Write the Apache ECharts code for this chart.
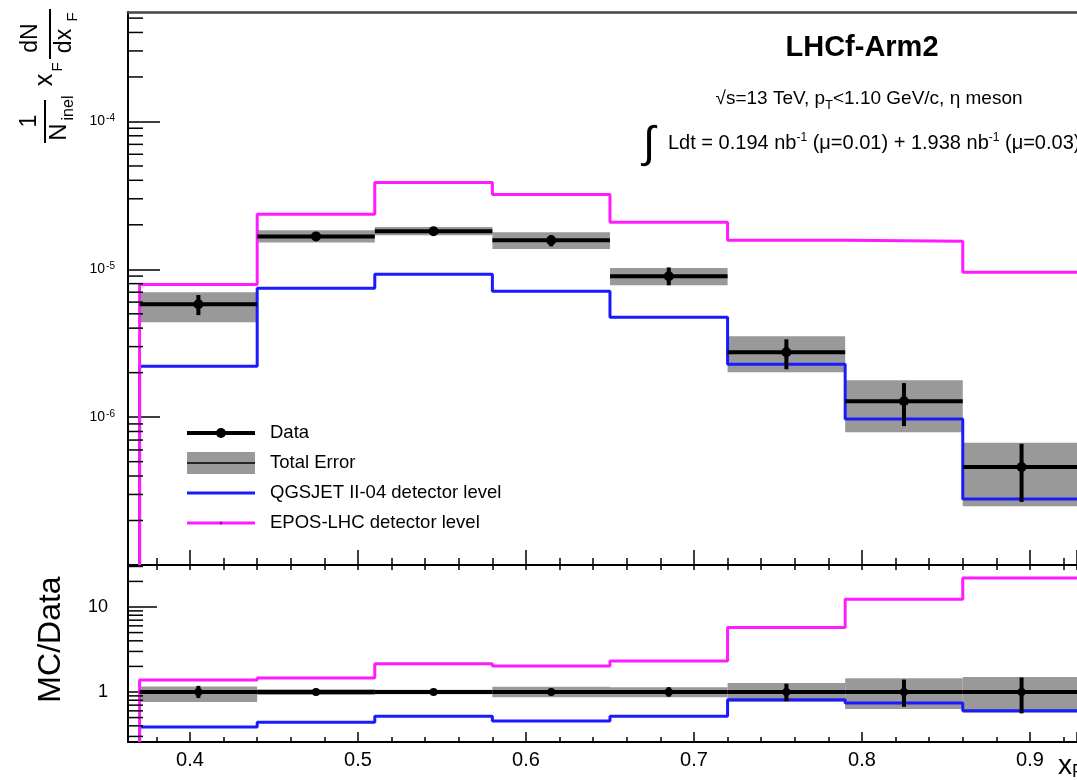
<!DOCTYPE html>
<html>
<head>
<meta charset="utf-8">
<title>LHCf-Arm2 eta meson xF spectrum</title>
<script src="https://cdn.jsdelivr.net/npm/echarts@6.0.0/dist/echarts.min.js"></script>
<style>
  html, body { margin: 0; padding: 0; background: #fff; }
  #main { width: 1077px; height: 780px; }
</style>
</head>
<body>
<div id="main"></div>
<script>
// x_F bin edges
const xfEdges = [0.37, 0.44, 0.51, 0.58, 0.65, 0.72, 0.79, 0.86, 0.93];

// upper panel: 1/N_inel x_F dN/dx_F
const dataVal    = [5.8e-6, 1.67e-5, 1.81e-5, 1.57e-5, 8.97e-6, 2.75e-6, 1.28e-6, 4.6e-7];
const dataStatLo = [4.9e-6, 1.60e-5, 1.75e-5, 1.43e-5, 7.8e-6, 2.11e-6, 8.7e-7, 2.67e-7];
const dataStatHi = [6.7e-6, 1.74e-5, 1.87e-5, 1.70e-5, 1.03e-5, 3.36e-6, 1.70e-6, 6.6e-7];
const dataTotLo  = [4.38e-6, 1.52e-5, 1.70e-5, 1.37e-5, 7.8e-6, 2.01e-6, 7.9e-7, 2.5e-7];
const dataTotHi  = [7.0e-6, 1.84e-5, 1.93e-5, 1.78e-5, 1.02e-5, 3.52e-6, 1.78e-6, 6.7e-7];
const qgsjetVal  = [2.21e-6, 7.45e-6, 9.25e-6, 7.1e-6, 4.74e-6, 2.28e-6, 9.7e-7, 2.8e-7];
const eposVal    = [7.9e-6, 2.36e-5, 3.87e-5, 3.21e-5, 2.08e-5, 1.57e-5, 1.55e-5, 9.55e-6];

// lower panel: MC/Data
const ratioVal    = [1, 1, 1, 1, 1, 1, 1, 1];
const ratioStatLo = [0.85, 0.96, 0.97, 0.92, 0.88, 0.78, 0.67, 0.56];
const ratioStatHi = [1.18, 1.04, 1.03, 1.08, 1.14, 1.25, 1.40, 1.48];
const ratioTotLo  = [0.76, 0.92, 0.94, 0.87, 0.87, 0.76, 0.63, 0.57];
const ratioTotHi  = [1.16, 1.08, 1.06, 1.15, 1.14, 1.28, 1.45, 1.50];
const ratioQgsjet = [0.387, 0.44, 0.52, 0.456, 0.52, 0.81, 0.74, 0.60];
const ratioEpos   = [1.38, 1.46, 2.15, 2.02, 2.31, 5.75, 12.3, 21.9];

// axis ranges and minor tick multipliers (log axes)
const X_MIN = 0.3631, X_MAX = 0.928;
const TOP_MIN = 1e-7, TOP_MAX = 5.5e-4;
const RATIO_MIN = 0.258, RATIO_MAX = 31.2;
const minorMultipliers = [2, 3, 4, 5, 6, 7, 8, 9];

const BLUE = '#1a1aff';
const MAGENTA = '#ff1aff';
const BAND = '#999999';
const FONT = '"Liberation Sans", Arial, Helvetica, sans-serif';

function stepPoints(vals, floor) {
  const pts = [[xfEdges[0], floor]];
  vals.forEach((v, i) => pts.push([xfEdges[i], v]));
  pts.push([xfEdges[xfEdges.length - 1], vals[vals.length - 1]]);
  return pts;
}
function bandRows(lo, hi) {
  return lo.map((l, i) => [xfEdges[i], xfEdges[i + 1], l, hi[i]]);
}
function pointRows(vals, lo, hi) {
  return vals.map((v, i) => [(xfEdges[i] + xfEdges[i + 1]) / 2, xfEdges[i], xfEdges[i + 1], v, lo[i], hi[i]]);
}
function minorTickRows(lo, hi) {
  const out = [];
  for (let e = Math.floor(Math.log10(lo)); e <= Math.ceil(Math.log10(hi)); e++) {
    minorMultipliers.forEach(m => {
      const v = m * Math.pow(10, e);
      if (v > lo && v < hi) out.push([X_MIN, v]);
    });
  }
  return out;
}

function renderBand(params, api) {
  const a = api.coord([api.value(0), api.value(3)]);
  const b = api.coord([api.value(1), api.value(2)]);
  return { type: 'rect', shape: { x: a[0], y: a[1], width: b[0] - a[0], height: b[1] - a[1] }, style: { fill: BAND } };
}
function renderPoint(size) {
  return function (params, api) {
    const c = api.coord([api.value(0), api.value(3)]);
    const l = api.coord([api.value(1), api.value(3)]);
    const r = api.coord([api.value(2), api.value(3)]);
    const lo = api.coord([api.value(0), api.value(4)]);
    const hi = api.coord([api.value(0), api.value(5)]);
    return {
      type: 'group',
      children: [
        { type: 'line', shape: { x1: l[0], y1: l[1], x2: r[0], y2: r[1] }, style: { stroke: '#000', lineWidth: 4 } },
        { type: 'line', shape: { x1: c[0], y1: lo[1], x2: c[0], y2: hi[1] }, style: { stroke: '#000', lineWidth: 4 } },
        { type: 'circle', shape: { cx: c[0], cy: c[1], r: size }, style: { fill: '#000' } }
      ]
    };
  };
}
function renderMinor(len) {
  return function (params, api) {
    const p = api.coord([api.value(0), api.value(1)]);
    return { type: 'line', shape: { x1: p[0], y1: p[1], x2: p[0] + len, y2: p[1] }, style: { stroke: '#000', lineWidth: 1.5 } };
  };
}

function txt(x, y, text, size, weight) {
  return {
    type: 'text', x: x, y: y,
    style: { text: text, font: (weight ? weight + ' ' : '') + size + 'px ' + FONT, fill: '#000',
      align: 'center', verticalAlign: 'middle', textAlign: 'center', textVerticalAlign: 'middle' }
  };
}
function richTxt(x, y, text, size, align, rich) {
  return {
    type: 'text', x: x, y: y,
    style: { text: text, font: size + 'px ' + FONT, fill: '#000', rich: rich || {},
      align: align, verticalAlign: 'middle', textAlign: align, textVerticalAlign: 'middle' }
  };
}
const subStyle = s => ({ fontSize: s, fontFamily: FONT, color: '#000', verticalAlign: 'bottom', padding: [12, 0, 0, 0] });
const supStyle = s => ({ fontSize: s, fontFamily: FONT, color: '#000', verticalAlign: 'top', padding: [0, 0, 10, 0] });

const chart = echarts.init(document.getElementById('main'));

const axisLineBlack = { show: true, onZero: false, lineStyle: { color: '#000', width: 2 } };

const option = {
  backgroundColor: '#fff',
  animation: false,
  grid: [
    { left: 128, top: 12, right: 0, height: 553, outerBoundsMode: 'none' },
    { left: 128, top: 565, right: 0, height: 177, outerBoundsMode: 'none' }
  ],
  xAxis: [
    { type: 'value', gridIndex: 0, min: X_MIN, max: X_MAX, position: 'bottom',
      axisLine: axisLineBlack,
      axisTick: { show: true, inside: true, length: 15, lineStyle: { color: '#000', width: 1.5 } },
      minorTick: { show: true, splitNumber: 5, length: 7, lineStyle: { color: '#000', width: 1.5 } },
      axisLabel: { show: false }, splitLine: { show: false } },
    { type: 'value', gridIndex: 1, min: X_MIN, max: X_MAX, position: 'bottom',
      axisLine: axisLineBlack,
      axisTick: { show: true, inside: true, length: 10, lineStyle: { color: '#000', width: 1.5 } },
      minorTick: { show: true, splitNumber: 5, length: 5, lineStyle: { color: '#000', width: 1.5 } },
      axisLabel: { show: true, showMinLabel: false, showMaxLabel: false, margin: 8,
        fontSize: 20, fontFamily: FONT, color: '#000', formatter: v => v.toFixed(1) },
      splitLine: { show: false } },
    { type: 'value', gridIndex: 0, min: X_MIN, max: X_MAX, position: 'top',
      axisLine: { show: true, onZero: false, lineStyle: { color: '#444', width: 2.5 } },
      axisTick: { show: false }, axisLabel: { show: false }, splitLine: { show: false } },
    { type: 'value', gridIndex: 1, min: X_MIN, max: X_MAX, position: 'top',
      axisLine: axisLineBlack,
      axisTick: { show: true, inside: true, length: 5, lineStyle: { color: '#000', width: 1.5 } },
      minorTick: { show: true, splitNumber: 5, length: 5, lineStyle: { color: '#000', width: 1.5 } },
      axisLabel: { show: false }, splitLine: { show: false } }
  ],
  yAxis: [
    { type: 'log', logBase: 10, gridIndex: 0, min: TOP_MIN, max: TOP_MAX,
      axisLine: axisLineBlack,
      axisTick: { show: true, inside: true, length: 32, lineStyle: { color: '#000', width: 1.5 } },
      axisLabel: { show: true, showMinLabel: false, showMaxLabel: false, margin: 13,
        fontSize: 14, fontFamily: FONT, color: '#000',
        formatter: v => '10{sup|' + Math.round(Math.log10(v)) + '}',
        rich: { sup: { fontSize: 10, fontFamily: FONT, color: '#000', verticalAlign: 'top', padding: [0, 0, 6, 1] } } },
      splitLine: { show: false } },
    { type: 'log', logBase: 10, gridIndex: 1, min: RATIO_MIN, max: RATIO_MAX,
      name: 'MC/Data', nameLocation: 'middle', nameRotate: 90, nameGap: 61,
      nameTextStyle: { fontSize: 32, fontFamily: FONT, color: '#000', padding: [0, 0, 0, 28] },
      axisLine: axisLineBlack,
      axisTick: { show: true, inside: true, length: 29, lineStyle: { color: '#000', width: 1.5 } },
      axisLabel: { show: true, showMinLabel: false, showMaxLabel: false, margin: 20,
        fontSize: 18, fontFamily: FONT, color: '#000', formatter: v => String(Math.round(v)) },
      splitLine: { show: false } }
  ],
  series: [
    // upper panel
    { name: 'Total Error', type: 'custom', coordinateSystem: 'cartesian2d', xAxisIndex: 0, yAxisIndex: 0,
      renderItem: renderBand, clip: true, z: 1, silent: true,
      encode: { x: [0, 1], y: [2, 3] }, data: bandRows(dataTotLo, dataTotHi) },
    { name: 'QGSJET II-04 detector level', type: 'line', xAxisIndex: 0, yAxisIndex: 0, step: 'end',
      symbol: 'none', z: 2, clip: true, lineStyle: { color: BLUE, width: 3 }, data: stepPoints(qgsjetVal, TOP_MIN) },
    { name: 'EPOS-LHC detector level', type: 'line', xAxisIndex: 0, yAxisIndex: 0, step: 'end',
      symbol: 'none', z: 2, clip: true, lineStyle: { color: MAGENTA, width: 3 }, data: stepPoints(eposVal, TOP_MIN) },
    { name: 'Data', type: 'custom', coordinateSystem: 'cartesian2d', xAxisIndex: 0, yAxisIndex: 0,
      renderItem: renderPoint(5), clip: true, z: 3, silent: true,
      encode: { x: [0, 1, 2], y: [3, 4, 5] }, data: pointRows(dataVal, dataStatLo, dataStatHi) },
    { name: 'minor ticks top', type: 'custom', coordinateSystem: 'cartesian2d', xAxisIndex: 0, yAxisIndex: 0,
      renderItem: renderMinor(15), z: 4, silent: true, encode: { x: 0, y: 1 },
      data: minorTickRows(TOP_MIN, TOP_MAX) },
    // lower panel
    { name: 'Total Error ratio', type: 'custom', coordinateSystem: 'cartesian2d', xAxisIndex: 1, yAxisIndex: 1,
      renderItem: renderBand, clip: true, z: 1, silent: true,
      encode: { x: [0, 1], y: [2, 3] }, data: bandRows(ratioTotLo, ratioTotHi) },
    { name: 'QGSJET ratio', type: 'line', xAxisIndex: 1, yAxisIndex: 1, step: 'end',
      symbol: 'none', z: 2, clip: true, lineStyle: { color: BLUE, width: 3 }, data: stepPoints(ratioQgsjet, RATIO_MIN) },
    { name: 'EPOS ratio', type: 'line', xAxisIndex: 1, yAxisIndex: 1, step: 'end',
      symbol: 'none', z: 2, clip: true, lineStyle: { color: MAGENTA, width: 3 }, data: stepPoints(ratioEpos, RATIO_MIN) },
    { name: 'Data ratio', type: 'custom', coordinateSystem: 'cartesian2d', xAxisIndex: 1, yAxisIndex: 1,
      renderItem: renderPoint(4), clip: true, z: 3, silent: true,
      encode: { x: [0, 1, 2], y: [3, 4, 5] }, data: pointRows(ratioVal, ratioStatLo, ratioStatHi) },
    { name: 'minor ticks ratio', type: 'custom', coordinateSystem: 'cartesian2d', xAxisIndex: 1, yAxisIndex: 1,
      renderItem: renderMinor(15), z: 4, silent: true, encode: { x: 0, y: 1 },
      data: minorTickRows(RATIO_MIN, RATIO_MAX) }
  ],
  graphic: [
    // y title of upper panel: 1/N_inel x_F dN/dx_F, rotated
    { type: 'group', x: 45, y: 145, rotation: Math.PI / 2, children: [
      txt(24, -15, '1', 23),
      { type: 'line', shape: { x1: 2, y1: 0, x2: 45, y2: 0 }, style: { stroke: '#000', lineWidth: 2 } },
      txt(13, 14, 'N', 24),
      txt(37, 24, 'inel', 16),
      txt(65, 0, 'x', 25),
      txt(78, 13, 'F', 15),
      txt(107, -14, 'dN', 23),
      { type: 'line', shape: { x1: 86, y1: 5, x2: 136, y2: 5 }, style: { stroke: '#000', lineWidth: 2 } },
      txt(104, 20, 'dx', 23),
      txt(128, 28, 'F', 15)
    ] },
    // x title
    richTxt(1058, 766, 'x{sub|F}', 28, 'left', { sub: subStyle(18) }),
    // annotations
    txt(862, 48, 'LHCf-Arm2', 29, 'bold'),
    richTxt(869, 99, '√s=13 TeV, p{sub|T}<1.10 GeV/c, η meson', 19, 'center', { sub: subStyle(13) }),
    txt(649, 145, '∫', 44),
    richTxt(668, 143, 'Ldt = 0.194 nb{sup|-1} (μ=0.01) + 1.938 nb{sup|-1} (μ=0.03)', 20, 'left', { sup: supStyle(12) }),
    // legend
    { type: 'rect', shape: { x: 187, y: 452, width: 68, height: 22 }, style: { fill: BAND } },
    { type: 'line', shape: { x1: 187, y1: 463, x2: 255, y2: 463 }, style: { stroke: '#000', lineWidth: 1.5 } },
    { type: 'line', shape: { x1: 187, y1: 433, x2: 255, y2: 433 }, style: { stroke: '#000', lineWidth: 4 } },
    { type: 'circle', shape: { cx: 221, cy: 433, r: 5 }, style: { fill: '#000' } },
    { type: 'line', shape: { x1: 187, y1: 493, x2: 255, y2: 493 }, style: { stroke: BLUE, lineWidth: 3 } },
    { type: 'line', shape: { x1: 187, y1: 523, x2: 255, y2: 523 }, style: { stroke: MAGENTA, lineWidth: 3 } },
    { type: 'circle', shape: { cx: 221, cy: 523, r: 1.5 }, style: { fill: '#a000a0' } },
    richTxt(270, 433, 'Data', 18.5, 'left'),
    richTxt(270, 463, 'Total Error', 18.5, 'left'),
    richTxt(270, 493, 'QGSJET II-04 detector level', 18.5, 'left'),
    richTxt(270, 523, 'EPOS-LHC detector level', 18.5, 'left')
  ]
};

chart.setOption(option);
</script>
</body>
</html>
